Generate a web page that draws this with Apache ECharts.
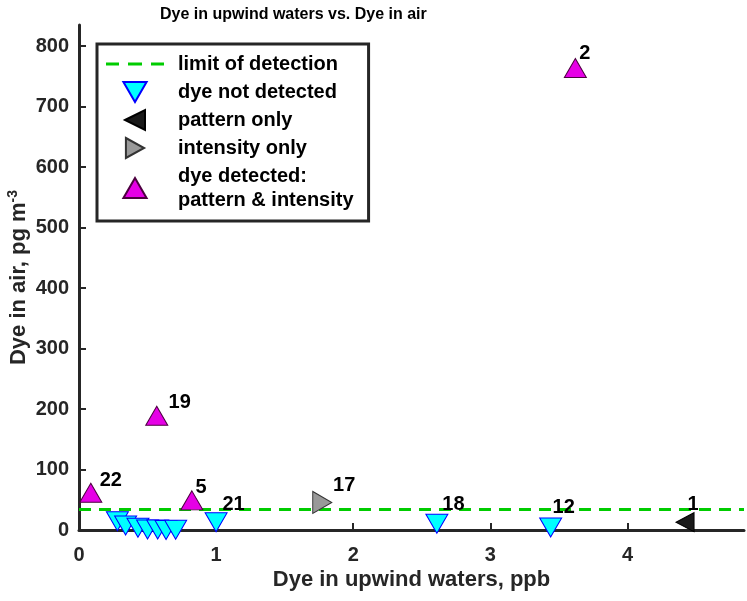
<!DOCTYPE html>
<html>
<head>
<meta charset="utf-8">
<script src="https://cdn.jsdelivr.net/npm/echarts@6/dist/echarts.min.js"></script>
<style>
html,body{margin:0;padding:0;background:#fff;}
#chart{width:747px;height:601px;}
</style>
</head>
<body>
<div id="chart"></div>
<script>
// ---- data ----
const xTicks = [0, 1, 2, 3, 4];
const yTicks = [0, 100, 200, 300, 400, 500, 600, 700, 800];
const limitOfDetection = 34;
// [x (ppb), y (pg m^-3), site id]
const dyeNotDetected = [
  [0.28, 14.5, ''], [0.34, 7.4, ''], [0.43, 3.6, ''], [0.50, 0.8, ''],
  [0.574, 0.8, ''], [0.635, 0, ''], [0.705, 0.5, ''],
  [1.00, 12.9, '21'], [2.61, 10.2, '18'], [3.44, 4.1, '12']
];
const patternOnly = [[4.42, 12.9, '1']];
const intensityOnly = [[1.774, 45.5, '17']];
const dyeDetected = [[3.62, 764, '2'], [0.567, 189, '19'], [0.823, 49, '5'], [0.086, 61.5, '22']];

// ---- style ----
const X_MIN = 0, X_MAX = 4.85, Y_MIN = 0, Y_MAX = 835;
const labelOffsets = {
  '1': [8, -17.5], '2': [9.5, -14], '5': [9.3, -13.3], '12': [13, -20],
  '17': [22, -16.5], '18': [16.6, -19.5], '19': [23, -13], '21': [17.5, -18], '22': [20, -12]
};
const axisColor = '#262626';
const FONT = 'Liberation Sans, Arial, sans-serif';

function pts(arr) {
  return arr.map(d => ({
    value: [d[0], d[1]],
    name: d[2],
    label: { offset: labelOffsets[d[2]] || [0, 0] }
  }));
}
const ptLabel = {
  show: true, position: 'inside', formatter: p => p.name,
  fontFamily: FONT, fontWeight: 'bold', fontSize: 20, color: '#000'
};

const chart = echarts.init(document.getElementById('chart'), null, {renderer: 'canvas'});
chart.setOption({
  animation: false,
  backgroundColor: '#fff',
  title: {
    text: 'Dye in upwind waters vs. Dye in air',
    left: 155, top: 2,
    textStyle: { fontFamily: FONT, fontWeight: 'bold', fontSize: 16, color: '#000' }
  },
  grid: { left: 79, right: 3, top: 25, bottom: 71, containLabel: false, outerBoundsMode: 'none' },
  xAxis: {
    type: 'value', min: X_MIN, max: X_MAX,
    splitLine: { show: false },
    axisLine: { show: true, onZero: false, lineStyle: { color: axisColor, width: 3 } },
    axisTick: { show: true, inside: true, length: 7, customValues: xTicks, lineStyle: { color: axisColor, width: 2 } },
    axisLabel: { customValues: xTicks, margin: 15, fontFamily: FONT, fontWeight: 'bold', fontSize: 20, color: axisColor },
    name: 'Dye in upwind waters, ppb', nameLocation: 'middle', nameGap: 39, nameMoveOverlap: false,
    nameTextStyle: { fontFamily: FONT, fontWeight: 'bold', fontSize: 22, color: axisColor }
  },
  yAxis: {
    type: 'value', min: Y_MIN, max: Y_MAX,
    splitLine: { show: false },
    axisLine: { show: true, onZero: false, lineStyle: { color: axisColor, width: 3 } },
    axisTick: { show: true, inside: true, length: 7, customValues: yTicks, lineStyle: { color: axisColor, width: 2 } },
    axisLabel: { customValues: yTicks, margin: 10, fontFamily: FONT, fontWeight: 'bold', fontSize: 20, color: axisColor },
    name: '{a|Dye in air, pg m}{s|-3}', nameLocation: 'middle', nameGap: 47, nameRotate: 90, nameMoveOverlap: false,
    nameTextStyle: {
      fontFamily: FONT, fontWeight: 'bold', fontSize: 22, color: axisColor,
      rich: {
        a: { fontFamily: FONT, fontWeight: 'bold', fontSize: 22, color: axisColor, lineHeight: 26 },
        s: { fontFamily: FONT, fontWeight: 'bold', fontSize: 14, color: axisColor, verticalAlign: 'top', lineHeight: 26, padding: [0, 0, 10, 0] }
      }
    }
  },
  legend: {
    orient: 'vertical', left: 97, top: 44,
    backgroundColor: '#fff', borderColor: axisColor, borderWidth: 3, borderRadius: 0,
    padding: [8, 15, 9, 9],
    itemWidth: 58, itemHeight: 20, itemGap: 4,
    selectedMode: false,
    textStyle: { fontFamily: FONT, fontWeight: 'bold', fontSize: 20, color: '#000', padding: [0, 0, 0, 9], lineHeight: 24 },
    data: [
      { name: 'limit of detection', icon: 'path://M0,0h13v3h-13zM22,0h14v3h-14zM45,0h13v3h-13z' },
      { name: 'dye not detected', icon: 'path://M0,0L22,0L11,19Z' },
      { name: 'pattern only', icon: 'path://M0,9L18,0L18,18Z' },
      { name: 'intensity only', icon: 'path://M0,0L20,11L0,22Z' },
      { name: 'dye detected:\npattern & intensity', icon: 'path://M11,0L22,19L0,19Z' }
    ]
  },
  series: [
    {
      name: 'limit of detection', type: 'line', z: 1,
      data: [[X_MIN, limitOfDetection], [X_MAX, limitOfDetection]],
      symbol: 'none', silent: true,
      itemStyle: { color: '#00cc00' },
      lineStyle: { color: '#00cc00', width: 3, type: [12, 8] }
    },
    {
      name: 'dye not detected', type: 'scatter', z: 3,
      symbol: 'triangle', symbolRotate: 180, symbolSize: [22, 19],
      itemStyle: { color: '#00ffff', borderColor: '#0000ff', borderWidth: 1, opacity: 1 },
      label: ptLabel, data: pts(dyeNotDetected)
    },
    {
      name: 'pattern only', type: 'scatter', z: 3,
      symbol: 'triangle', symbolRotate: 90, symbolSize: [19, 18],
      itemStyle: { color: '#1a1a1a', borderColor: '#000', borderWidth: 1, opacity: 1 },
      label: ptLabel, data: pts(patternOnly)
    },
    {
      name: 'intensity only', type: 'scatter', z: 3,
      symbol: 'triangle', symbolRotate: -90, symbolSize: [22, 19],
      itemStyle: { color: '#999999', borderColor: '#333', borderWidth: 1, opacity: 1 },
      label: ptLabel, data: pts(intensityOnly)
    },
    {
      name: 'dye detected:\npattern & intensity', type: 'scatter', z: 3,
      symbol: 'triangle', symbolSize: [22, 19],
      itemStyle: { color: '#e600e6', borderColor: '#4d0040', borderWidth: 1, opacity: 1 },
      label: ptLabel, data: pts(dyeDetected)
    }
  ]
});
</script>
</body>
</html>
